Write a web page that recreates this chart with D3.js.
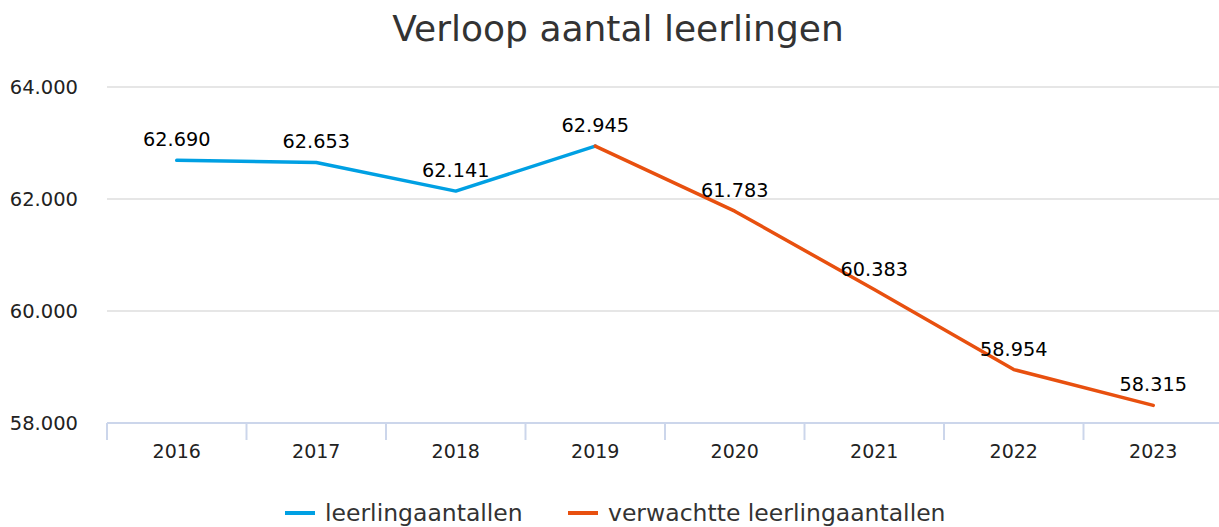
<!DOCTYPE html>
<html>
<head>
<meta charset="utf-8">
<script src="https://cdn.jsdelivr.net/npm/d3@7"></script>
<style>
  html, body { margin: 0; padding: 0; background: #fff; }
  svg { display: block; font-family: "DejaVu Sans", Verdana, sans-serif; }
</style>
</head>
<body>
<svg id="chart" width="1219" height="527"></svg>
<script>
// Student counts per school year (actual and forecast)
const years = ["2016", "2017", "2018", "2019", "2020", "2021", "2022", "2023"];
const actualYears = ["2016", "2017", "2018", "2019"];
const actualValues = [62690, 62653, 62141, 62945];
const forecastYears = ["2019", "2020", "2021", "2022", "2023"];
const forecastValues = [62945, 61783, 60383, 58954, 58315];
const yTicks = [58000, 60000, 62000, 64000];
const seriesNames = ["leerlingaantallen", "verwachtte leerlingaantallen"];
const seriesColors = ["#00a0e3", "#e8500f"];

const svg = d3.select("#chart");
const W = 1219, H = 527;
const plotLeft = 107, plotRight = 1223, plotTop = 87, plotBottom = 423;

const x = d3.scaleBand().domain(years).range([plotLeft, plotRight]);
const y = d3.scaleLinear().domain([58000, 64000]).range([plotBottom, plotTop]);

const fmt = v => d3.format(",")(v).replace(/,/g, ".");

// Title
svg.append("text")
  .attr("x", 618).attr("y", 41)
  .attr("text-anchor", "middle")
  .attr("fill", "#333")
  .style("font-size", "36px")
  .text("Verloop aantal leerlingen");

// Horizontal gridlines
svg.append("g").selectAll("line")
  .data(yTicks.filter(t => t !== 58000))
  .join("line")
  .attr("x1", plotLeft).attr("x2", W)
  .attr("y1", d => y(d)).attr("y2", d => y(d))
  .attr("stroke", "#e6e6e6").attr("stroke-width", 2);

// Y axis labels
svg.append("g").selectAll("text")
  .data(yTicks)
  .join("text")
  .attr("x", 78).attr("y", d => y(d) + 7)
  .attr("text-anchor", "end")
  .attr("fill", "#222")
  .style("font-size", "19.5px")
  .text(d => fmt(d));

// X axis line and category ticks
svg.append("line")
  .attr("x1", plotLeft).attr("x2", W)
  .attr("y1", plotBottom).attr("y2", plotBottom)
  .attr("stroke", "#ccd6eb").attr("stroke-width", 2);

const tickPos = years.map(d => x(d));
svg.append("g").selectAll("line")
  .data(tickPos)
  .join("line")
  .attr("x1", d => d).attr("x2", d => d)
  .attr("y1", plotBottom).attr("y2", plotBottom + 17)
  .attr("stroke", "#ccd6eb").attr("stroke-width", 2);

svg.append("g").selectAll("text")
  .data(years)
  .join("text")
  .attr("x", d => x(d) + x.bandwidth() / 2)
  .attr("y", 458)
  .attr("text-anchor", "middle")
  .attr("fill", "#222")
  .style("font-size", "19px")
  .text(d => d);

const cx = d => x(d) + x.bandwidth() / 2;
const line = d3.line().x(d => cx(d[0])).y(d => y(d[1]));

const actual = actualYears.map((d, i) => [d, actualValues[i]]);
const forecast = forecastYears.map((d, i) => [d, forecastValues[i]]);

svg.append("path").datum(actual)
  .attr("d", line).attr("fill", "none")
  .attr("stroke", seriesColors[0]).attr("stroke-width", 3.5)
  .attr("stroke-linejoin", "round").attr("stroke-linecap", "round");

svg.append("path").datum(forecast)
  .attr("d", line).attr("fill", "none")
  .attr("stroke", seriesColors[1]).attr("stroke-width", 3.5)
  .attr("stroke-linejoin", "round").attr("stroke-linecap", "round");

// Data labels
const labelPts = actual.concat(forecast.slice(1));
svg.append("g").selectAll("text")
  .data(labelPts)
  .join("text")
  .attr("x", d => cx(d[0]))
  .attr("y", d => y(d[1]) - 14)
  .attr("text-anchor", "middle")
  .attr("fill", "#000")
  .style("font-size", "19.3px")
  .text(d => fmt(d[1]));

// Legend
const legend = [
  { name: seriesNames[0], color: seriesColors[0], x: 285 },
  { name: seriesNames[1], color: seriesColors[1], x: 568 }
];
const lg = svg.append("g").selectAll("g").data(legend).join("g")
  .attr("transform", d => `translate(${d.x},513)`);
lg.append("line")
  .attr("x1", 0).attr("x2", 30).attr("y1", 0).attr("y2", 0)
  .attr("stroke", d => d.color).attr("stroke-width", 4);
lg.append("text")
  .attr("x", 40).attr("y", 8)
  .attr("fill", "#333")
  .style("font-size", "23.5px")
  .text(d => d.name);
</script>
</body>
</html>
